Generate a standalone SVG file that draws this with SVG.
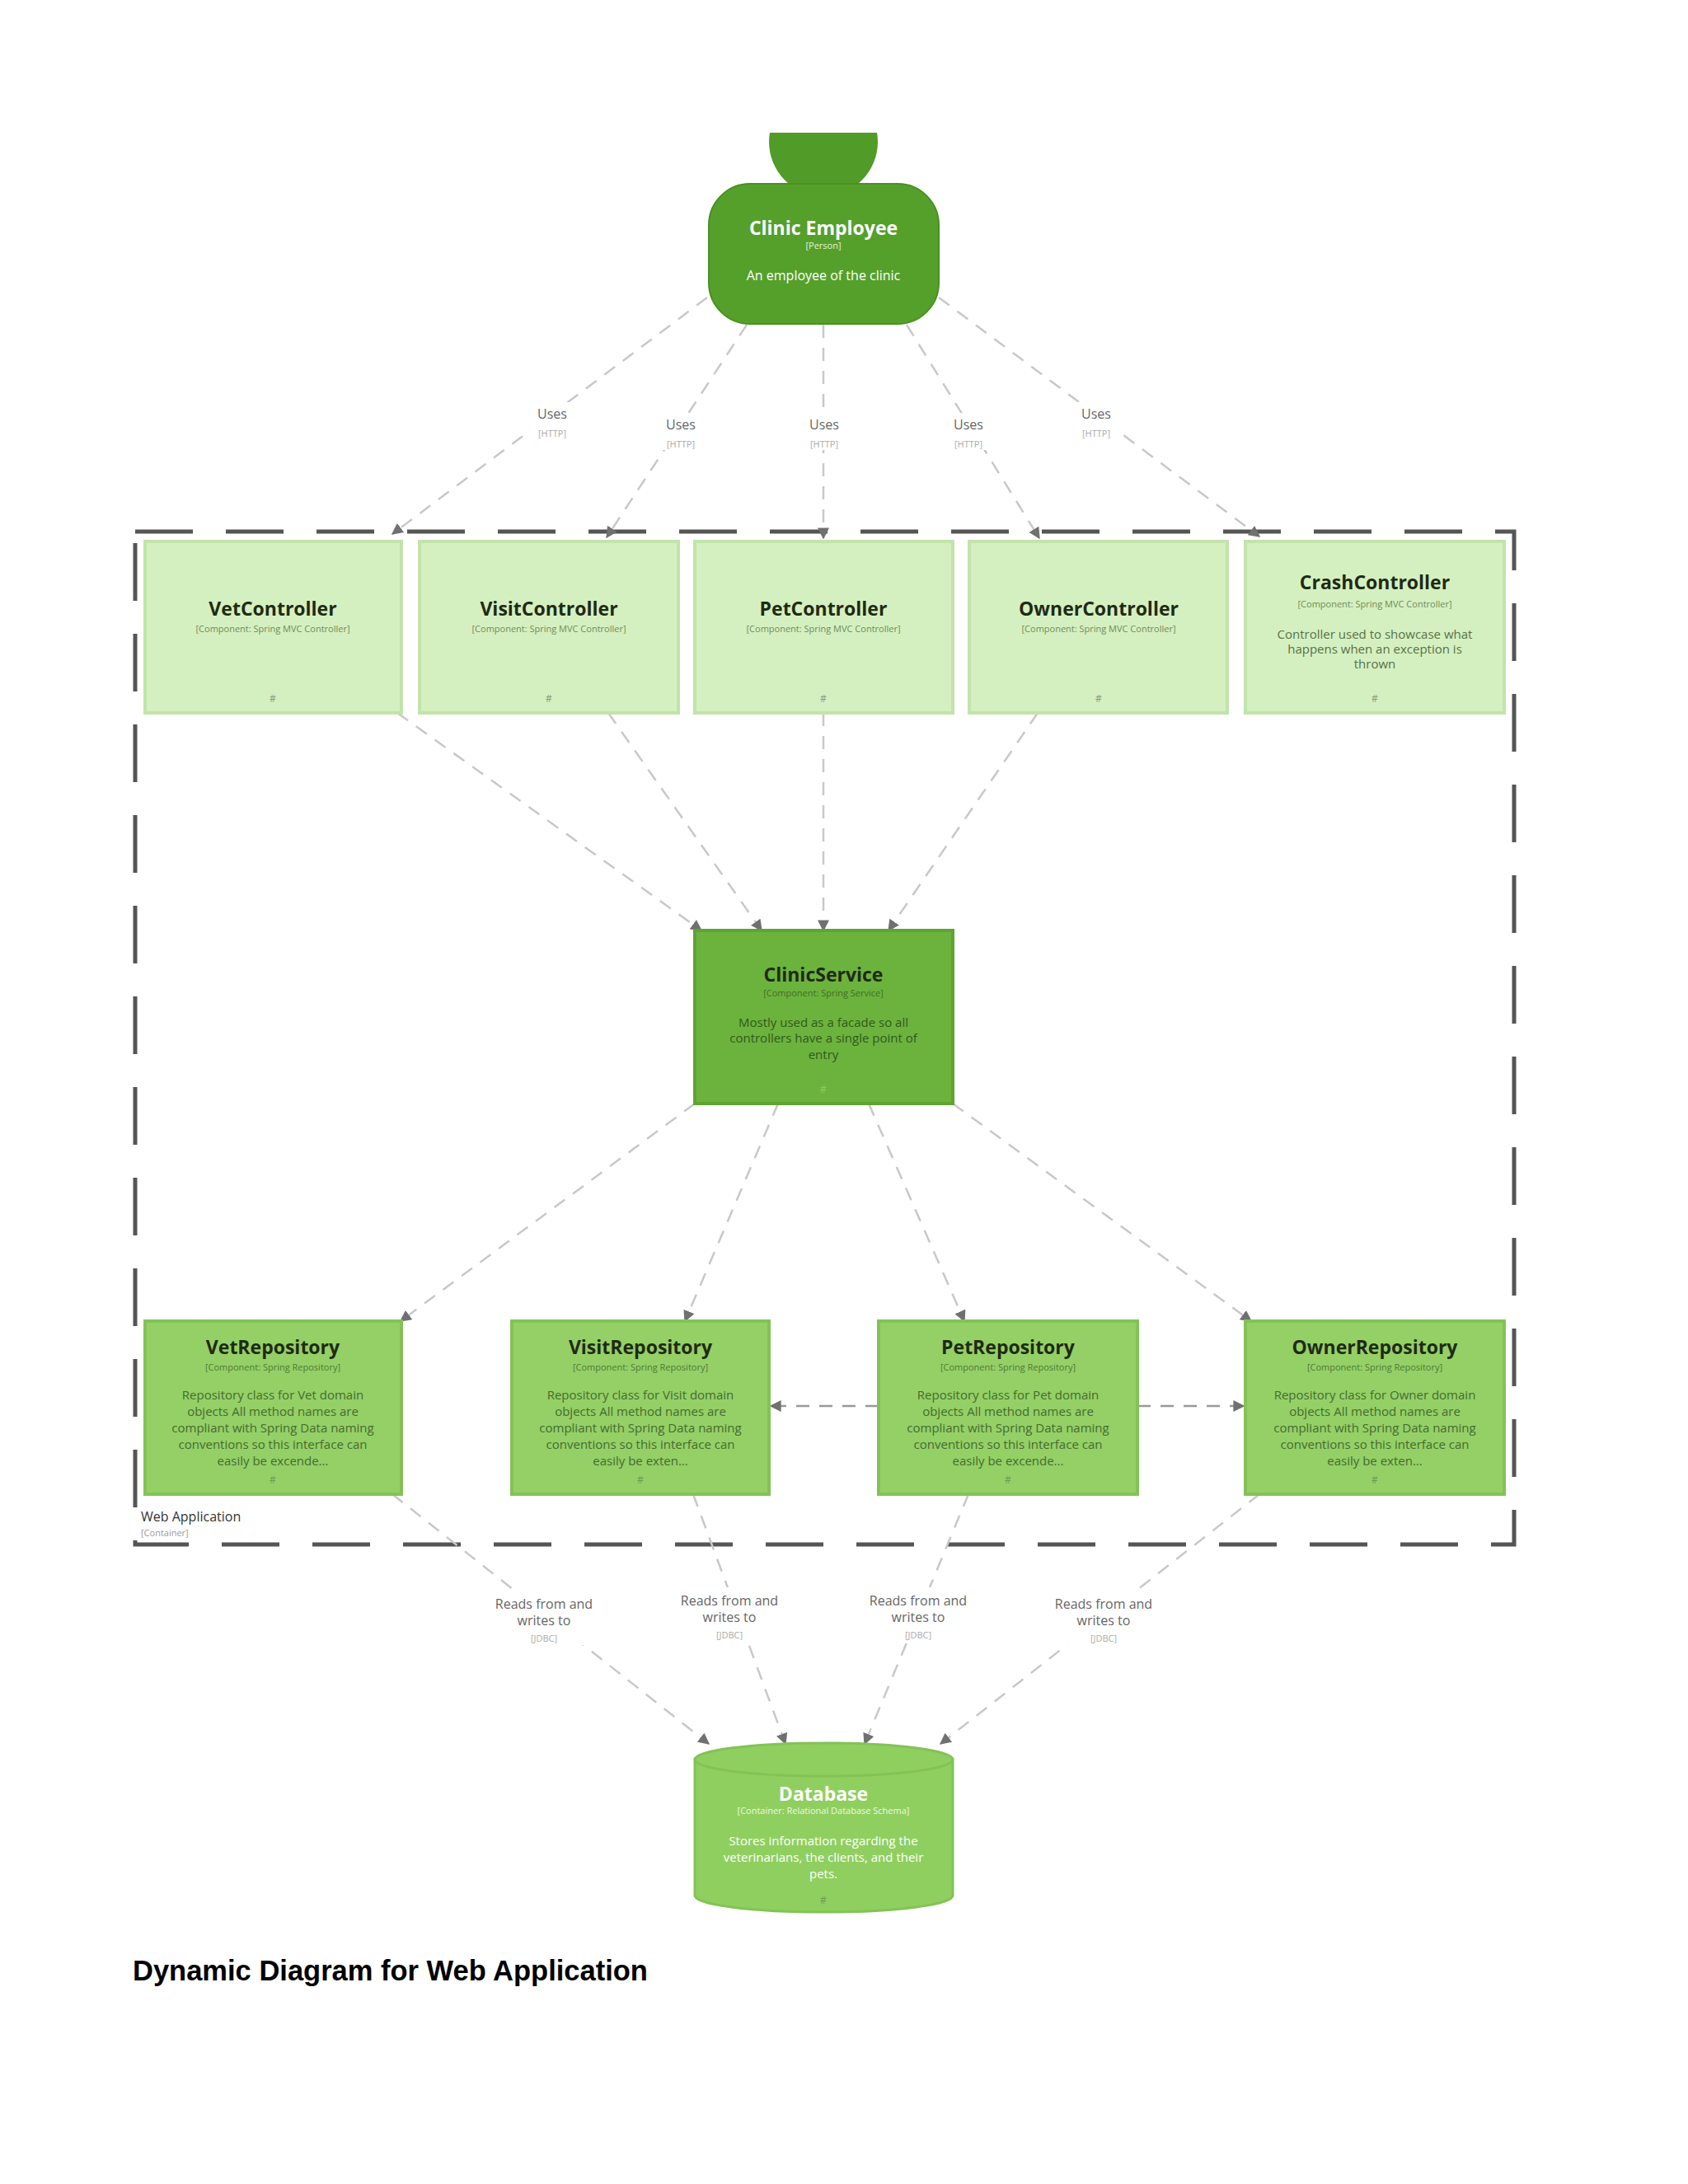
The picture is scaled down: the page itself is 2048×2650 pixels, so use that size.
<svg xmlns="http://www.w3.org/2000/svg" width="2048" height="2650" viewBox="0 0 2048 2650">
<defs>
<marker id="ah" viewBox="0 0 10 10" refX="9" refY="5" markerWidth="14" markerHeight="14" markerUnits="userSpaceOnUse" orient="auto"><path d="M0,0 L10,5 L0,10 z" fill="#707070"/></marker>
<style>
text{font-family:"Open Sans","Liberation Sans",sans-serif;text-anchor:middle}
.c{fill:#d5f0c0;stroke:#c2e3ab;stroke-width:4}
.r{fill:#94d066;stroke:#84c257;stroke-width:4}
.t{font-size:23px;font-weight:bold;fill:#1f2a14}
.k{font-size:11px;fill:#6f8a5c}
.d{font-size:15px;fill:#55704a}
.h{font-size:12px;fill:#8a9a80}
.ln{stroke:#c8c8c8;stroke-width:2.5;stroke-dasharray:16 12;fill:none;marker-end:url(#ah)}
.lb{font-size:16px;fill:#666}
.lk{font-size:11px;fill:#aaa}
</style>
</defs>
<rect width="2048" height="2650" fill="#fff"/>
<g id="boundary">
<rect x="164" y="645" width="1673" height="1229" fill="none" stroke="#555" stroke-width="5" stroke-dasharray="70 40"/>
<text x="171" y="1846" style="text-anchor:start;font-size:16px;fill:#333">Web Application</text>
<text x="171" y="1864" style="text-anchor:start;font-size:11px;fill:#999">[Container]</text>
</g>
<g id="connectors">
<line class="ln" x1="858" y1="361" x2="476" y2="648"/>
<line class="ln" x1="906" y1="394" x2="736" y2="652"/>
<line class="ln" x1="999" y1="394" x2="999" y2="653"/>
<line class="ln" x1="1100" y1="394" x2="1261" y2="653"/>
<line class="ln" x1="1139" y1="361" x2="1528" y2="651"/>
<line class="ln" x1="482" y1="865" x2="851" y2="1129"/>
<line class="ln" x1="738" y1="865" x2="924" y2="1129"/>
<line class="ln" x1="999" y1="865" x2="999" y2="1129"/>
<line class="ln" x1="1259" y1="865" x2="1078" y2="1129"/>
<line class="ln" x1="843" y1="1339" x2="486" y2="1603"/>
<line class="ln" x1="944" y1="1339" x2="831" y2="1603"/>
<line class="ln" x1="1054" y1="1339" x2="1170" y2="1603"/>
<line class="ln" x1="1156" y1="1339" x2="1518" y2="1603"/>
<line class="ln" x1="1066" y1="1706" x2="935" y2="1706" style="stroke:#999"/>
<line class="ln" x1="1380" y1="1706" x2="1509" y2="1706" style="stroke:#999"/>
<line class="ln" x1="476" y1="1813" x2="860" y2="2116"/>
<line class="ln" x1="841" y1="1813" x2="953" y2="2116"/>
<line class="ln" x1="1175" y1="1813" x2="1049" y2="2116"/>
<line class="ln" x1="1528" y1="1813" x2="1141" y2="2116"/>
<g fill="#fff">
<rect x="640" y="488" width="60" height="45"/><rect x="796" y="501" width="60" height="45"/><rect x="970" y="501" width="60" height="45"/><rect x="1145" y="501" width="60" height="45"/><rect x="1300" y="488" width="60" height="45"/>
<rect x="595" y="1930" width="130" height="66"/><rect x="820" y="1926" width="130" height="66"/><rect x="1049" y="1926" width="130" height="66"/><rect x="1274" y="1930" width="130" height="66"/>
</g>
<text class="lb" x="670" y="508">Uses</text><text class="lk" x="670" y="530">[HTTP]</text>
<text class="lb" x="826" y="521">Uses</text><text class="lk" x="826" y="543">[HTTP]</text>
<text class="lb" x="1000" y="521">Uses</text><text class="lk" x="1000" y="543">[HTTP]</text>
<text class="lb" x="1175" y="521">Uses</text><text class="lk" x="1175" y="543">[HTTP]</text>
<text class="lb" x="1330" y="508">Uses</text><text class="lk" x="1330" y="530">[HTTP]</text>
<text class="lb" x="660" y="1952">Reads from and</text><text class="lb" x="660" y="1972">writes to</text><text class="lk" x="660" y="1992">[JDBC]</text>
<text class="lb" x="885" y="1948">Reads from and</text><text class="lb" x="885" y="1968">writes to</text><text class="lk" x="885" y="1988">[JDBC]</text>
<text class="lb" x="1114" y="1948">Reads from and</text><text class="lb" x="1114" y="1968">writes to</text><text class="lk" x="1114" y="1988">[JDBC]</text>
<text class="lb" x="1339" y="1952">Reads from and</text><text class="lb" x="1339" y="1972">writes to</text><text class="lk" x="1339" y="1992">[JDBC]</text>
</g>
<g id="person">
<clipPath id="pc"><rect x="800" y="161" width="400" height="300"/></clipPath>
<circle cx="999" cy="172" r="66" fill="#519b28" clip-path="url(#pc)"/>
<rect x="860" y="223" width="279" height="170" rx="50" fill="#55a02b" stroke="#4a9022" stroke-width="2"/>
<text x="999" y="285" style="font-size:23px;font-weight:bold;fill:#fff">Clinic Employee</text>
<text x="999" y="302" style="font-size:11px;fill:#e6f2dc">[Person]</text>
<text x="999" y="340" style="font-size:16px;fill:#fff">An employee of the clinic</text>
</g>
<g id="VetController"><rect class="c" x="176" y="657" width="311" height="208"/><text class="t" x="331" y="747">VetController</text><text class="k" x="331" y="767">[Component: Spring MVC Controller]</text><text class="h" x="331" y="852">#</text></g>
<g id="VisitController"><rect class="c" x="509" y="657" width="314" height="208"/><text class="t" x="666" y="747">VisitController</text><text class="k" x="666" y="767">[Component: Spring MVC Controller]</text><text class="h" x="666" y="852">#</text></g>
<g id="PetController"><rect class="c" x="843" y="657" width="313" height="208"/><text class="t" x="999" y="747">PetController</text><text class="k" x="999" y="767">[Component: Spring MVC Controller]</text><text class="h" x="999" y="852">#</text></g>
<g id="OwnerController"><rect class="c" x="1176" y="657" width="313" height="208"/><text class="t" x="1333" y="747">OwnerController</text><text class="k" x="1333" y="767">[Component: Spring MVC Controller]</text><text class="h" x="1333" y="852">#</text></g>
<g id="CrashController"><rect class="c" x="1511" y="657" width="314" height="208"/><text class="t" x="1668" y="715">CrashController</text><text class="k" x="1668" y="737">[Component: Spring MVC Controller]</text><text class="d" x="1668" y="775">Controller used to showcase what</text><text class="d" x="1668" y="793">happens when an exception is</text><text class="d" x="1668" y="811">thrown</text><text class="h" x="1668" y="852">#</text></g>
<g id="ClinicService"><rect x="843" y="1129" width="313" height="210" fill="#6cb33e" stroke="#5fa333" stroke-width="4"/><text class="t" x="999" y="1191">ClinicService</text><text class="k" x="999" y="1209" style="fill:#3f6e25">[Component: Spring Service]</text><text class="d" x="999" y="1246" style="fill:#2f5a1a">Mostly used as a facade so all</text><text class="d" x="999" y="1265" style="fill:#2f5a1a">controllers have a single point of</text><text class="d" x="999" y="1285" style="fill:#2f5a1a">entry</text><text class="h" x="999" y="1326" style="fill:#8cc96a">#</text></g>
<g id="VetRepository"><rect class="r" x="176" y="1603" width="311" height="210"/><text class="t" x="331" y="1643">VetRepository</text><text class="k" x="331" y="1663" style="fill:#4f7a36">[Component: Spring Repository]</text><text class="d" x="331" y="1698" style="fill:#456b2e">Repository class for Vet domain</text><text class="d" x="331" y="1718" style="fill:#456b2e">objects All method names are</text><text class="d" x="331" y="1738" style="fill:#456b2e">compliant with Spring Data naming</text><text class="d" x="331" y="1758" style="fill:#456b2e">conventions so this interface can</text><text class="d" x="331" y="1778" style="fill:#456b2e">easily be excende...</text><text class="h" x="331" y="1800" style="fill:#6f9a50">#</text></g>
<g id="VisitRepository"><rect class="r" x="621" y="1603" width="312" height="210"/><text class="t" x="777" y="1643">VisitRepository</text><text class="k" x="777" y="1663" style="fill:#4f7a36">[Component: Spring Repository]</text><text class="d" x="777" y="1698" style="fill:#456b2e">Repository class for Visit domain</text><text class="d" x="777" y="1718" style="fill:#456b2e">objects All method names are</text><text class="d" x="777" y="1738" style="fill:#456b2e">compliant with Spring Data naming</text><text class="d" x="777" y="1758" style="fill:#456b2e">conventions so this interface can</text><text class="d" x="777" y="1778" style="fill:#456b2e">easily be exten...</text><text class="h" x="777" y="1800" style="fill:#6f9a50">#</text></g>
<g id="PetRepository"><rect class="r" x="1066" y="1603" width="314" height="210"/><text class="t" x="1223" y="1643">PetRepository</text><text class="k" x="1223" y="1663" style="fill:#4f7a36">[Component: Spring Repository]</text><text class="d" x="1223" y="1698" style="fill:#456b2e">Repository class for Pet domain</text><text class="d" x="1223" y="1718" style="fill:#456b2e">objects All method names are</text><text class="d" x="1223" y="1738" style="fill:#456b2e">compliant with Spring Data naming</text><text class="d" x="1223" y="1758" style="fill:#456b2e">conventions so this interface can</text><text class="d" x="1223" y="1778" style="fill:#456b2e">easily be excende...</text><text class="h" x="1223" y="1800" style="fill:#6f9a50">#</text></g>
<g id="OwnerRepository"><rect class="r" x="1511" y="1603" width="314" height="210"/><text class="t" x="1668" y="1643">OwnerRepository</text><text class="k" x="1668" y="1663" style="fill:#4f7a36">[Component: Spring Repository]</text><text class="d" x="1668" y="1698" style="fill:#456b2e">Repository class for Owner domain</text><text class="d" x="1668" y="1718" style="fill:#456b2e">objects All method names are</text><text class="d" x="1668" y="1738" style="fill:#456b2e">compliant with Spring Data naming</text><text class="d" x="1668" y="1758" style="fill:#456b2e">conventions so this interface can</text><text class="d" x="1668" y="1778" style="fill:#456b2e">easily be exten...</text><text class="h" x="1668" y="1800" style="fill:#6f9a50">#</text></g>
<g id="Database">
<path d="M843,2135 L843,2300 A156,20 0 0 0 1156,2300 L1156,2135 A156,20 0 0 0 843,2135 z" fill="#8fcf5f" stroke="#84c257" stroke-width="3"/>
<path d="M843,2135 A156,20 0 0 0 1156,2135" fill="none" stroke="#84c257" stroke-width="3"/>
<text x="999" y="2185" style="font-size:23px;font-weight:bold;fill:#fff">Database</text>
<text x="999" y="2201" style="font-size:11px;fill:#eef8e6">[Container: Relational Database Schema]</text>
<text x="999" y="2239" style="font-size:15px;fill:#fff">Stores information regarding the</text>
<text x="999" y="2259" style="font-size:15px;fill:#fff">veterinarians, the clients, and their</text>
<text x="999" y="2279" style="font-size:15px;fill:#fff">pets.</text>
<text x="999" y="2310" style="font-size:12px;fill:#6f9a50">#</text>
</g>
<text x="161" y="2403" style="text-anchor:start;font-family:'Liberation Sans',Arial,sans-serif;font-size:34.5px;font-weight:bold;fill:#000">Dynamic Diagram for Web Application</text>
</svg>
